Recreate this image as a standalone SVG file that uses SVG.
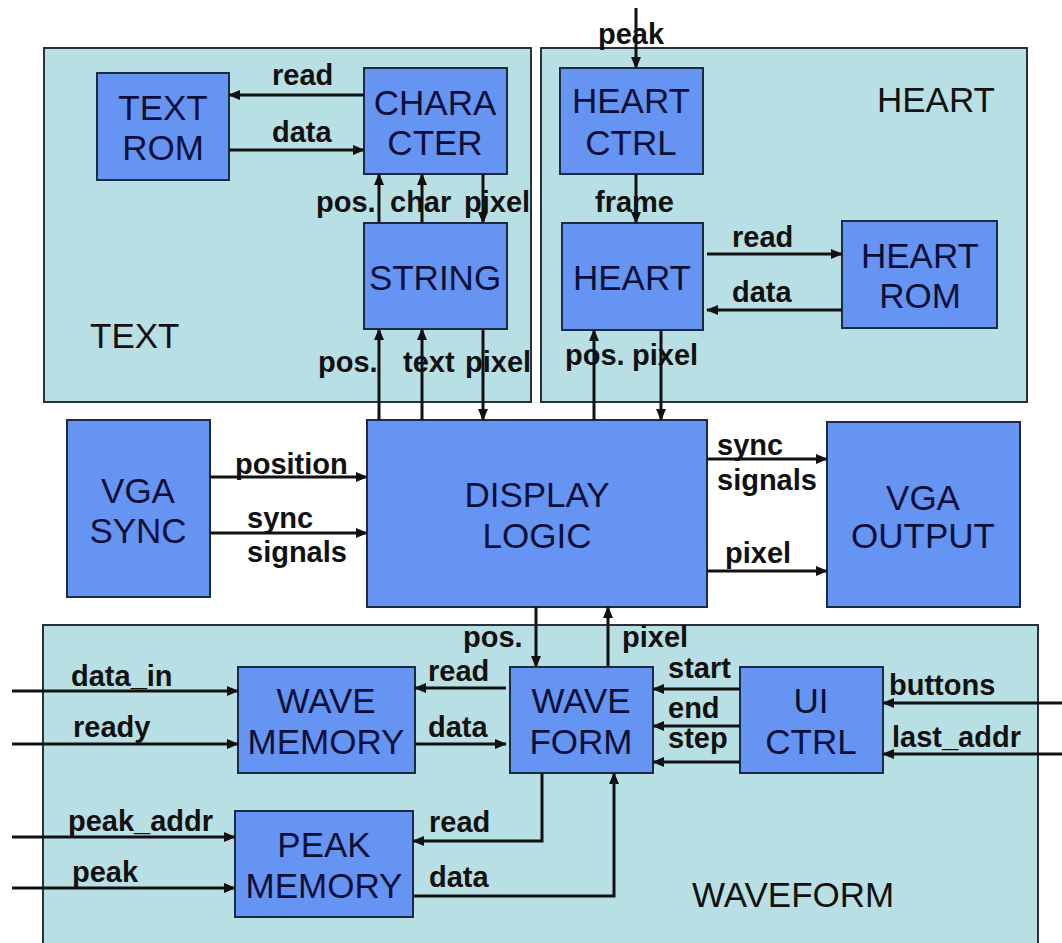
<svg xmlns="http://www.w3.org/2000/svg" width="1062" height="943" viewBox="0 0 1062 943">
<style>
.cont{fill:#b8dfe3;stroke:#2a3238;stroke-width:2}
.node{fill:#6594f3;stroke:#1c2a44;stroke-width:2}
.nt{font-family:"Liberation Sans",Arial,sans-serif;font-size:35px;fill:#0c1038;text-anchor:middle}
.ct{font-family:"Liberation Sans",Arial,sans-serif;font-size:35px;fill:#111}
.lb{font-family:"Liberation Sans",Arial,sans-serif;font-size:29px;font-weight:bold;fill:#111}
.w{fill:none;stroke:#111;stroke-width:3}
.a{fill:none;stroke:#111;stroke-width:3;marker-end:url(#ah)}
</style>
<defs>
<marker id="ah" markerWidth="12" markerHeight="10" refX="11" refY="5" orient="auto" markerUnits="userSpaceOnUse"><path d="M0,0 L12,5 L0,10 z" fill="#111"/></marker>
</defs>
<rect width="1062" height="943" fill="#fff"/>

<g id="container-text"><rect class="cont" x="44" y="48" width="487" height="354"/><text class="ct" x="90" y="348">TEXT</text></g>
<g id="container-heart"><rect class="cont" x="541" y="48" width="486" height="354"/><text class="ct" x="877" y="112">HEART</text></g>
<g id="container-waveform"><rect class="cont" x="43" y="625" width="995" height="330"/><text class="ct" x="692" y="907">WAVEFORM</text></g>

<g id="text-rom"><rect class="node" x="97" y="73" width="132" height="107"/><text class="nt" x="163" y="120">TEXT</text><text class="nt" x="163" y="160">ROM</text></g>
<g id="character"><rect class="node" x="364" y="68" width="143" height="106"/><text class="nt" x="435" y="115">CHARA</text><text class="nt" x="435" y="155">CTER</text></g>
<g id="string"><rect class="node" x="364" y="223" width="143" height="106"/><text class="nt" x="435" y="290">STRING</text></g>
<g id="heart-ctrl"><rect class="node" x="560" y="68" width="143" height="106"/><text class="nt" x="631" y="113">HEART</text><text class="nt" x="631" y="155">CTRL</text></g>
<g id="heart"><rect class="node" x="562" y="223" width="141" height="107"/><text class="nt" x="632" y="290">HEART</text></g>
<g id="heart-rom"><rect class="node" x="842" y="221" width="155" height="107"/><text class="nt" x="920" y="268">HEART</text><text class="nt" x="920" y="308">ROM</text></g>
<g id="vga-sync"><rect class="node" x="67" y="420" width="143" height="177"/><text class="nt" x="138" y="503">VGA</text><text class="nt" x="138" y="543">SYNC</text></g>
<g id="display-logic"><rect class="node" x="367" y="420" width="340" height="187"/><text class="nt" x="537" y="507">DISPLAY</text><text class="nt" x="537" y="548">LOGIC</text></g>
<g id="vga-output"><rect class="node" x="827" y="422" width="193" height="185"/><text class="nt" x="923" y="510">VGA</text><text class="nt" x="923" y="548">OUTPUT</text></g>
<g id="wave-memory"><rect class="node" x="238" y="667" width="177" height="106"/><text class="nt" x="326" y="713">WAVE</text><text class="nt" x="326" y="754">MEMORY</text></g>
<g id="peak-memory"><rect class="node" x="235" y="811" width="178" height="106"/><text class="nt" x="324" y="857">PEAK</text><text class="nt" x="324" y="898">MEMORY</text></g>
<g id="wave-form"><rect class="node" x="510" y="667" width="143" height="106"/><text class="nt" x="581" y="713">WAVE</text><text class="nt" x="581" y="754">FORM</text></g>
<g id="ui-ctrl"><rect class="node" x="740" y="667" width="143" height="106"/><text class="nt" x="811" y="713">UI</text><text class="nt" x="811" y="754">CTRL</text></g>

<g id="connectors">
<line class="a" x1="364" y1="95" x2="229" y2="95"/>
<line class="a" x1="229" y1="150" x2="364" y2="150"/>
<line class="a" x1="379" y1="223" x2="379" y2="174"/>
<line class="a" x1="422" y1="223" x2="422" y2="174"/>
<line class="a" x1="483" y1="174" x2="483" y2="223"/>
<line class="a" x1="379" y1="420" x2="379" y2="329"/>
<line class="a" x1="422" y1="420" x2="422" y2="329"/>
<line class="a" x1="483" y1="329" x2="483" y2="420"/>
<line class="a" x1="636" y1="8" x2="636" y2="68"/>
<line class="a" x1="636" y1="174" x2="636" y2="223"/>
<line class="a" x1="707" y1="254" x2="842" y2="254"/>
<line class="a" x1="842" y1="310" x2="707" y2="310"/>
<line class="a" x1="594" y1="420" x2="594" y2="330"/>
<line class="a" x1="661" y1="330" x2="661" y2="420"/>
<line class="a" x1="210" y1="477" x2="367" y2="477"/>
<line class="a" x1="210" y1="533" x2="367" y2="533"/>
<line class="a" x1="707" y1="459" x2="827" y2="459"/>
<line class="a" x1="707" y1="571" x2="827" y2="571"/>
<line class="a" x1="536" y1="607" x2="536" y2="667"/>
<line class="a" x1="608" y1="667" x2="608" y2="607"/>
<line class="a" x1="12" y1="691" x2="238" y2="691"/>
<line class="a" x1="12" y1="744" x2="238" y2="744"/>
<line class="a" x1="12" y1="837" x2="235" y2="837"/>
<line class="a" x1="12" y1="888" x2="235" y2="888"/>
<line class="a" x1="506" y1="688" x2="415" y2="688"/>
<line class="a" x1="415" y1="744" x2="506" y2="744"/>
<polyline class="a" points="542,773 542,841 413,841"/>
<polyline class="a" points="413,896 614,896 614,773"/>
<line class="a" x1="740" y1="689" x2="653" y2="689"/>
<line class="a" x1="740" y1="726" x2="653" y2="726"/>
<line class="a" x1="740" y1="762" x2="653" y2="762"/>
<line class="a" x1="1062" y1="703" x2="883" y2="703"/>
<line class="a" x1="1062" y1="754" x2="883" y2="754"/>
</g>

<g id="labels">
<text class="lb" x="272" y="85">read</text>
<text class="lb" x="272" y="142">data</text>
<text class="lb" x="316" y="212">pos.</text>
<text class="lb" x="390" y="212">char</text>
<text class="lb" x="464" y="212">pixel</text>
<text class="lb" x="318" y="372">pos.</text>
<text class="lb" x="403" y="372">text</text>
<text class="lb" x="465" y="372">pixel</text>
<text class="lb" x="598" y="44">peak</text>
<text class="lb" x="595" y="212">frame</text>
<text class="lb" x="732" y="247">read</text>
<text class="lb" x="732" y="302">data</text>
<text class="lb" x="565" y="365">pos.</text>
<text class="lb" x="632" y="365">pixel</text>
<text class="lb" x="235" y="474">position</text>
<text class="lb" x="247" y="528">sync</text>
<text class="lb" x="247" y="562">signals</text>
<text class="lb" x="717" y="455">sync</text>
<text class="lb" x="717" y="490">signals</text>
<text class="lb" x="725" y="563">pixel</text>
<text class="lb" x="463" y="647">pos.</text>
<text class="lb" x="622" y="647">pixel</text>
<text class="lb" x="71" y="686">data_in</text>
<text class="lb" x="73" y="737">ready</text>
<text class="lb" x="68" y="831">peak_addr</text>
<text class="lb" x="72" y="882">peak</text>
<text class="lb" x="428" y="681">read</text>
<text class="lb" x="428" y="737">data</text>
<text class="lb" x="429" y="832">read</text>
<text class="lb" x="429" y="887">data</text>
<text class="lb" x="668" y="678">start</text>
<text class="lb" x="668" y="718">end</text>
<text class="lb" x="668" y="748">step</text>
<text class="lb" x="889" y="695">buttons</text>
<text class="lb" x="892" y="747">last_addr</text>
</g>
</svg>
